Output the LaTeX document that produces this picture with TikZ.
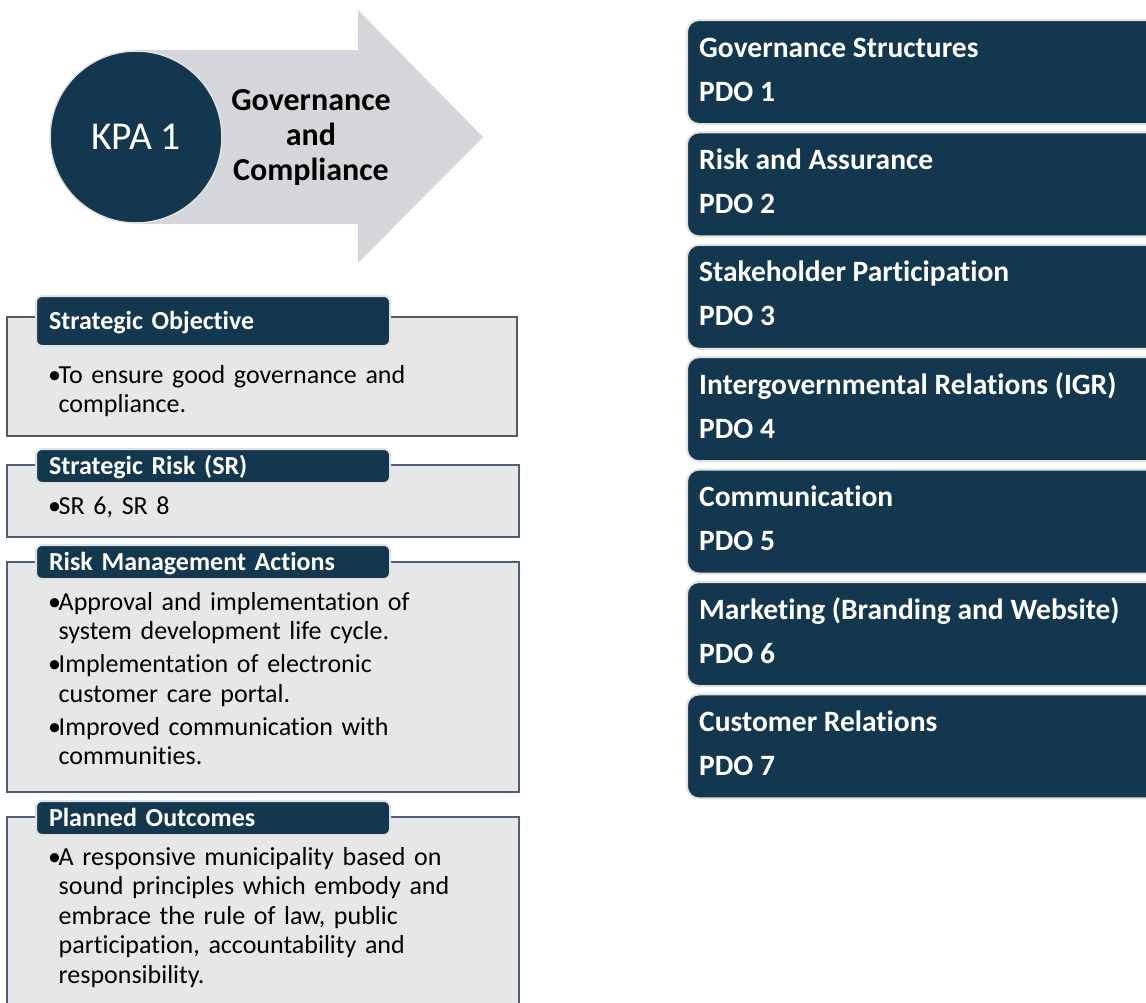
\documentclass[tikz,border=0pt]{standalone}
\usepackage{fontspec}
\setmainfont{Carlito}[Ligatures=NoCommon]
\usetikzlibrary{positioning}

\definecolor{kpanavy}{HTML}{12374F}
\definecolor{arrowgrey}{HTML}{D5D6DA}
\definecolor{panelfill}{HTML}{E7E7E7}
\definecolor{rimgrey}{HTML}{E2E2E2}
\definecolor{slate}{HTML}{4E5F77}

% one bullet paragraph, later lines hang under the text
\newcommand{\bitem}[1]{\hangindent=10.5pt\hangafter=1\noindent\makebox[10.5pt][l]{•}#1\par\vspace{3.5pt}}

\begin{document}
\begin{tikzpicture}[x=1pt, y=-1pt,
    panel/.style={fill=panelfill, draw=slate, line width=2.5pt},
    head/.style={draw=rimgrey, line width=2pt, fill=kpanavy, rounded corners=6pt,
      anchor=north west, minimum width=354pt, inner xsep=13pt, text width=328pt,
      align=left, text=white, text height=18pt, text depth=2pt,
      font=\fontsize{26}{30}\selectfont\bfseries},
    body/.style={anchor=base west, inner sep=0pt, text width=450pt,
      font=\fontsize{26}{29.5}\selectfont},
    pdobox/.style={draw=rimgrey, line width=2pt, fill=kpanavy, rounded corners=12pt,
      anchor=north west, minimum width=520pt, minimum height=104pt},
    pdotext/.style={anchor=base west, inner sep=0pt, text=white,
      font=\fontsize{29.5}{34}\selectfont\bfseries}]
\useasboundingbox (0,0) rectangle (1146,1002);
\clip (0,0) rectangle (1146,1002);

% big arrow with the KPA disc
\fill[arrowgrey] (135,50) -- (358,50) -- (358,10) -- (483,137)
  -- (358,263) -- (358,224) -- (135,224) -- cycle;
\node[circle, minimum size=172pt, fill=kpanavy, draw=rimgrey, line width=1.5pt,
  text=white, font=\fontsize{39.5}{44}\selectfont] (kpa) at (136,137) {KPA 1};
\node[align=center, font=\fontsize{32}{35}\selectfont\bfseries] (kpaname) at (311,138)
  {Governance\\and\\Compliance};

% left hand panels
\draw[panel, draw=black!65, line width=1.5pt] (7,317) rectangle (517,436);
\node[head, minimum height=50pt] (objhead) at (35,295) {Strategic Objective};
\node[body] (objtext) at (48,383) {\bitem{To ensure good governance and\newline compliance.}};

\draw[panel] (7,465) rectangle (519,537);
\node[head, minimum height=34pt] (riskhead) at (35,448) {Strategic Risk (SR)};
\node[body] (risktext) at (48,514) {\bitem{SR 6, SR 8}};

\draw[panel] (7,562) rectangle (519,792);
\node[head, minimum height=34pt] (acthead) at (35,544) {Risk Management Actions};
\node[body] (acttext) at (48,610) {%
  \bitem{Approval and implementation of\newline system development life cycle.}%
  \bitem{Implementation of electronic\newline customer care portal.}%
  \bitem{Improved communication with\newline communities.}};

\draw[panel] (7,817) rectangle (519,1012);
\node[head, minimum height=34pt] (outhead) at (35,800) {Planned Outcomes};
\node[body] (outtext) at (48,865) {%
  \bitem{A responsive municipality based on\newline sound principles which embody and\newline
    embrace the rule of law, public\newline participation, accountability and\newline
    responsibility.}};

% programme objectives on the right
\foreach \t [count=\i] in {Governance Structures, Risk and Assurance,
    Stakeholder Participation, Intergovernmental Relations (IGR),
    Communication, Marketing (Branding and Website), Customer Relations} {
  \node[pdobox] (pdo\i) at (686,{19+(\i-1)*112.4}) {};
  \node[pdotext] (pdotitle\i) at ([xshift=13pt,yshift=-38pt]pdo\i.north west) {\t};
  \node[pdotext] (pdonum\i) at ([xshift=13pt,yshift=-82pt]pdo\i.north west) {PDO \i};
}
\end{tikzpicture}
\end{document}
